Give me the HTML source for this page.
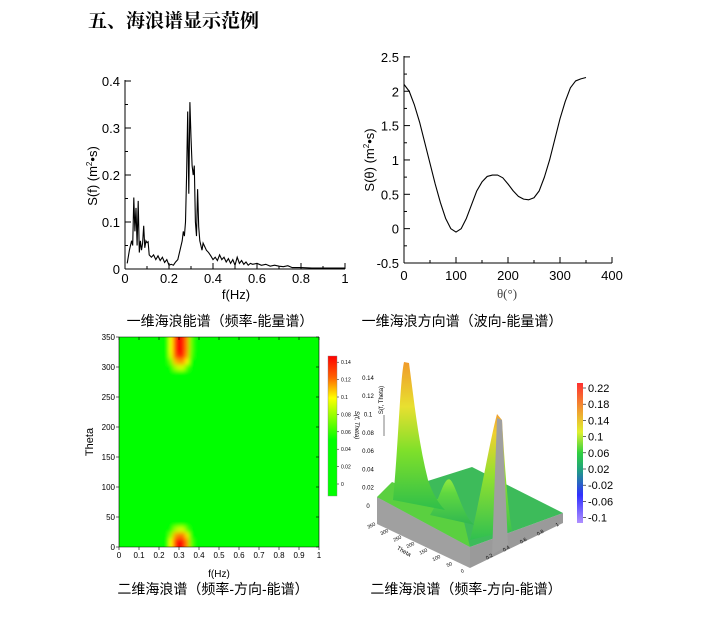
<!DOCTYPE html>
<html><head><meta charset="utf-8"><style>
body{margin:0;background:#fff;width:706px;height:616px;overflow:hidden}
svg text{font-family:"Liberation Sans","Noto Sans CJK SC",sans-serif}
.cap{font-family:"Liberation Sans","Noto Sans CJK SC",sans-serif;font-size:14px}
</style></head><body>
<svg id="page" width="706" height="616" viewBox="0 0 706 616">
<text x="88" y="27" font-size="19" font-weight="bold" style="font-family:'Liberation Serif','Noto Serif CJK SC',serif">五、海浪谱显示范例</text>
<g id="c1"></g>
<g id="c2"></g>
<g id="c3"></g>
<g id="c4"></g>
<text class="cap" x="220" y="326" text-anchor="middle" font-size="14">一维海浪能谱（频率-能量谱）</text>
<text class="cap" x="462" y="326" text-anchor="middle" font-size="14">一维海浪方向谱（波向-能量谱）</text>
<text class="cap" x="213" y="594" text-anchor="middle" font-size="14">二维海浪谱（频率-方向-能谱）</text>
<text class="cap" x="466" y="594" text-anchor="middle" font-size="14">二维海浪谱（频率-方向-能谱）</text>
</svg>
<script>
// ---- chart 1 data ----
const freqs=[0.01,0.02,0.03,0.035,0.04,0.045,0.05,0.055,0.06,0.065,0.07,0.075,0.08,0.085,0.09,0.095,0.1,0.105,0.11,0.12,0.13,0.14,0.15,0.16,0.17,0.18,0.19,0.2,0.21,0.22,0.23,0.24,0.25,0.26,0.265,0.27,0.275,0.28,0.285,0.29,0.295,0.3,0.305,0.31,0.315,0.32,0.325,0.33,0.335,0.34,0.35,0.355,0.36,0.37,0.38,0.39,0.4,0.41,0.42,0.43,0.44,0.45,0.46,0.47,0.48,0.49,0.5,0.51,0.52,0.53,0.54,0.55,0.56,0.57,0.58,0.6,0.62,0.64,0.66,0.68,0.7,0.72,0.74,0.76,0.8,0.85,0.9,0.95,1.0];
const sf=[0.012,0.04,0.06,0.05,0.152,0.08,0.13,0.05,0.145,0.035,0.06,0.04,0.055,0.092,0.045,0.06,0.056,0.058,0.03,0.025,0.03,0.02,0.028,0.018,0.025,0.014,0.02,0.008,0.01,0.008,0.015,0.02,0.04,0.06,0.08,0.07,0.1,0.2,0.335,0.16,0.355,0.28,0.22,0.2,0.22,0.1,0.07,0.17,0.09,0.06,0.04,0.055,0.05,0.04,0.035,0.028,0.02,0.025,0.018,0.03,0.02,0.025,0.015,0.022,0.012,0.02,0.008,0.025,0.012,0.018,0.01,0.015,0.008,0.012,0.01,0.012,0.008,0.01,0.006,0.008,0.006,0.005,0.007,0.003,0.003,0.002,0.002,0.002,0.002];
const c1xTicks=["0","0.2","0.4","0.6","0.8","1"];
const c1yTicks=["0","0.1","0.2","0.3","0.4"];
// ---- chart 2 data ----
const thetas=[0,10,20,30,40,50,60,70,80,90,100,110,120,130,140,150,160,170,180,190,200,210,220,230,240,250,260,270,280,290,300,310,320,330,340,350];
const sTheta=[2.1,2.0,1.8,1.55,1.25,0.95,0.65,0.38,0.15,0.0,-0.05,0.0,0.15,0.35,0.55,0.68,0.76,0.78,0.78,0.74,0.65,0.55,0.47,0.43,0.42,0.45,0.55,0.75,1.0,1.3,1.6,1.85,2.05,2.15,2.18,2.2];
const c2xTicks=["0","100","200","300","400"];
const c2yTicks=["-0.5","0","0.5","1","1.5","2","2.5"];
// ---- chart 3 data (separable directional spectrum) ----
const hmFreqs=[0.24,0.26,0.28,0.30,0.32,0.34,0.36,0.38];
const hmFreqProfile=[0.2,0.55,0.9,1.0,1.0,0.75,0.4,0.1];
const hmThetas=[0,10,20,30,40,50,290,300,310,320,330,340,350];
const hmDirProfile=[1.0,1.0,0.8,0.5,0.25,0.08,0.15,0.5,0.75,0.95,1.0,1.0,1.0];
const hmPeak=0.145;
const c3xTicks=["0","0.1","0.2","0.3","0.4","0.5","0.6","0.7","0.8","0.9","1"];
const c3yTicks=["0","50","100","150","200","250","300","350"];
const cbTicks=["0","0.02","0.04","0.06","0.08","0.1","0.12","0.14"];
const cb4Ticks=["0.22","0.18","0.14","0.1","0.06","0.02","-0.02","-0.06","-0.1"];
const zTicks=["0","0.02","0.04","0.06","0.08","0.1","0.12","0.14"];

const NS="http://www.w3.org/2000/svg";
function mk(p,tag,a){const e=document.createElementNS(NS,tag);for(const k in a)e.setAttribute(k,a[k]);p.appendChild(e);return e;}
function ln(p,x1,y1,x2,y2,w){return mk(p,'line',{x1,y1,x2,y2,stroke:'#000','stroke-width':w||1});}
function tx(p,x,y,s,fs,anc,extra){const t=mk(p,'text',Object.assign({x,y,'font-size':fs,'text-anchor':anc||'middle'},extra||{}));t.textContent=s;return t;}

// Chart 1
(function(){
 const g=document.getElementById('c1');
 const X=v=>125+v*220, Y=v=>269-v*470;
 ln(g,125,80,125,269);ln(g,125,269,345,269);
 for(let i=0;i<=8;i++){const y=Y(i*0.05);ln(g,125,y,i%2?128:131,y);}
 for(let i=0;i<=10;i++){const x=X(i*0.1);ln(g,x,269,x,i%2?266:263);}
 c1xTicks.forEach((s,i)=>{const t=tx(g,X(i*0.2),283,s,13);});
 c1yTicks.forEach((s,i)=>{const t=tx(g,120,Y(i*0.1)+5,s,13,'end');});
 const xl=tx(g,236,299,'f(Hz)',13);
 const yl=tx(g,0,0,'',13,'middle',{transform:'translate(97,176) rotate(-90)'});
 yl.innerHTML='S(f) (m<tspan font-size="8" dy="-5">2</tspan><tspan dy="5">•s)</tspan>';
 
 const pl=mk(g,'polyline',{points:freqs.map((f,i)=>X(f)+','+Y(sf[i])).join(' '),fill:'none',stroke:'#000','stroke-width':1.1});
 
})();

// Chart 2
(function(){
 const g=document.getElementById('c2');
 const X=v=>404+v*0.52, Y=v=>263-(v+0.5)*68.7;
 ln(g,404,56,404,263);ln(g,404,263,612,263);
 for(let i=0;i<=12;i++){const y=Y(-0.5+i*0.25);ln(g,404,y,i%2?407:410,y);}
 for(let i=0;i<=8;i++){const x=X(i*50);ln(g,x,263,x,i%2?260:257);}
 c2xTicks.forEach((s,i)=>{const t=tx(g,X(i*100),280,s,13);});
 c2yTicks.forEach((s,i)=>{const t=tx(g,399,Y(-0.5+i*0.5)+5,s,13,'end');});
 const xl=tx(g,507,298,'θ(°)',13,'middle',{style:"font-family:'Liberation Serif',serif",fill:'#444'});
 
 const yl=tx(g,0,0,'',13,'middle',{transform:'translate(374,160) rotate(-90)'});
 yl.innerHTML='S(θ) (m<tspan font-size="8" dy="-5">2</tspan><tspan dy="5">•s)</tspan>';
 
 const pl=mk(g,'polyline',{points:thetas.map((t,i)=>X(t)+','+Y(sTheta[i])).join(' '),fill:'none',stroke:'#000','stroke-width':1.1,'stroke-linejoin':'round'});
 
})();

// Chart 3 heatmap
function hmColor(v){const t=Math.max(0,Math.min(1,v/0.145));
 let r,gg;
 if(t<0.3){r=0;gg=255;} else if(t<0.55){r=Math.round(255*(t-0.3)/0.25);gg=255;} else {r=255;gg=Math.round(255*(1-(t-0.55)/0.45));}
 return `rgb(${r},${gg},0)`;}
(function(){
 const g=document.getElementById('c3');
 const X=v=>119+v*200, Y=v=>547-v*0.6;
 const defs=mk(g,'defs',{});
 const f=mk(defs,'filter',{id:'blur',x:'-50%',y:'-50%',width:'200%',height:'200%'});
 mk(f,'feGaussianBlur',{stdDeviation:'2.2'});
 const cp=mk(defs,'clipPath',{id:'hmclip'});mk(cp,'rect',{x:119,y:337,width:200,height:210});
 const bg=mk(g,'rect',{x:119,y:337,width:200,height:210,fill:'#00ff00'});
 
 const cells=mk(g,'g',{'clip-path':'url(#hmclip)'});
 const inner=mk(cells,'g',{filter:'url(#blur)'});
 hmThetas.forEach((th,j)=>{hmFreqs.forEach((fr,i)=>{
  const v=hmPeak*hmFreqProfile[i]*hmDirProfile[j];
  const r=mk(inner,'rect',{x:X(fr-0.01),y:Y(th+5)-(th===350?8:0),width:200*0.02+0.5,height:6+(th===350||th===0?8:0)+0.5,fill:hmColor(v)});
  
 });});
 ln(g,119,337,119,547,0.6);ln(g,119,547,319,547,0.6);ln(g,119,337,319,337,0.6);ln(g,319,337,319,547,0.6);
 c3xTicks.forEach((s,i)=>{const x=X(i*0.1);ln(g,x,547,x,550,0.6);ln(g,x,337,x,340,0.6);const t=tx(g,x,558,s,8);});
 c3yTicks.forEach((s,i)=>{const y=Y(i*50);ln(g,116,y,119,y,0.6);ln(g,319,y,316,y,0.6);const t=tx(g,115,y+3,s,8,'end');});
 const xl=tx(g,219,577,'f(Hz)',10);
 const yl=tx(g,0,0,'Theta',11,'middle',{transform:'translate(93,442) rotate(-90)'});
 const lg=mk(defs,'linearGradient',{id:'cb3',x1:0,y1:0,x2:0,y2:1});
 [[0,'#ff0000'],[0.15,'#ff6000'],[0.3,'#ffff00'],[0.45,'#80ff00'],[0.6,'#00ff00'],[1,'#00ff00']].forEach(s=>mk(lg,'stop',{offset:s[0],'stop-color':s[1]}));
 const cb=mk(g,'rect',{x:328,y:356,width:9,height:140,fill:'url(#cb3)',stroke:'#888','stroke-width':0.4});
 
 cbTicks.forEach((s,i)=>{const y=484-i*17.4;ln(g,337,y,339,y,0.5);const t=tx(g,341,y+2,s,5,'start');});
 const cl=tx(g,0,0,'S(f, Theta)',6,'middle',{transform:'translate(355,425) rotate(90)','font-style':'italic'});
})();

// Chart 4 3D surface (illustrative)
(function(){
 const g=document.getElementById('c4');
 const defs=mk(g,'defs',{});
 function grad(id,stops){const lg=mk(defs,'linearGradient',{id,x1:0,y1:1,x2:0,y2:0});stops.forEach(s=>mk(lg,'stop',{offset:s[0],'stop-color':s[1]}));}
 grad('pk',[[0,'#2fbf4a'],[0.4,'#7fe02a'],[0.7,'#e8e030'],[1,'#f09a2a']]);
 grad('pk2',[[0,'#30c050'],[0.5,'#90e030'],[0.85,'#f0d030'],[1,'#f0a030']]);
 grad('pk3',[[0,'#30b850'],[0.7,'#60d840'],[1,'#90e840']]);
 grad('cb4',[[0,'#b090ff'],[0.2,'#3030ff'],[0.38,'#20a080'],[0.5,'#30d040'],[0.65,'#e0f030'],[0.8,'#f0a030'],[1,'#ff3030']]);
 const w1=mk(g,'polygon',{points:'377,497 470,547 470,568 377,524',fill:'#a0a0a0'});
 const w2=mk(g,'polygon',{points:'470,547 563,513 563,523 470,568',fill:'#9a9a9a'});
 const bp=mk(g,'polygon',{points:'377,497 472,467 563,513 470,547',fill:'#3dbb5a'});
 const lf=mk(g,'polygon',{points:'377,497 392,482 420,493 440,500 460,505 470,547',fill:'#5ad040'});
 const h=mk(g,'path',{d:'M430,515 C440,500 445,470 452,482 C458,492 465,520 475,525 Z',fill:'url(#pk3)'});
 const p1=mk(g,'path',{d:'M393,500 C398,450 400,380 404,362 L409,363 C414,400 418,440 428,480 C433,495 440,505 445,510 Z',fill:'url(#pk)'});
 const p2=mk(g,'path',{d:'M470,540 C480,500 490,440 497,414 L502,420 C505,470 508,510 512,530 Z',fill:'url(#pk2)'});
 const gw=mk(g,'polygon',{points:'497,418 502,420 508,545 492,555',fill:'#a0a0a0'});
 zTicks.forEach((s,i)=>{const t=tx(g,368,508-i*18.3,s,6,'middle');});
 ln(g,384,415,384,436,0.5);
 const zl=tx(g,0,0,'S(f, Theta)',6,'middle',{transform:'translate(383,400) rotate(-90)'});
 ['350','300','250','200','150','100','50','0'].forEach((s,i)=>{const t=tx(g,372+i*13,527+i*6.5,s,5,'middle',{transform:`rotate(-25 ${372+i*13} ${527+i*6.5})`});});
 const th=tx(g,403,553,'Theta',6,'middle',{transform:'rotate(30 403 553)'});
 ['0.2','0.4','0.6','0.8','1'].forEach((s,i)=>{const t=tx(g,490+i*17,558-i*8,s,5,'middle',{transform:`rotate(-30 ${490+i*17} ${558-i*8})`});});
 const cb=mk(g,'rect',{x:577,y:383,width:6,height:140,fill:'url(#cb4)'});
 cb4Ticks.forEach((s,i)=>{const y=388+i*16.2;ln(g,583,y,586,y,0.6);const t=tx(g,588,y+4,s,11,'start');});
})();
</script>
</body></html>
